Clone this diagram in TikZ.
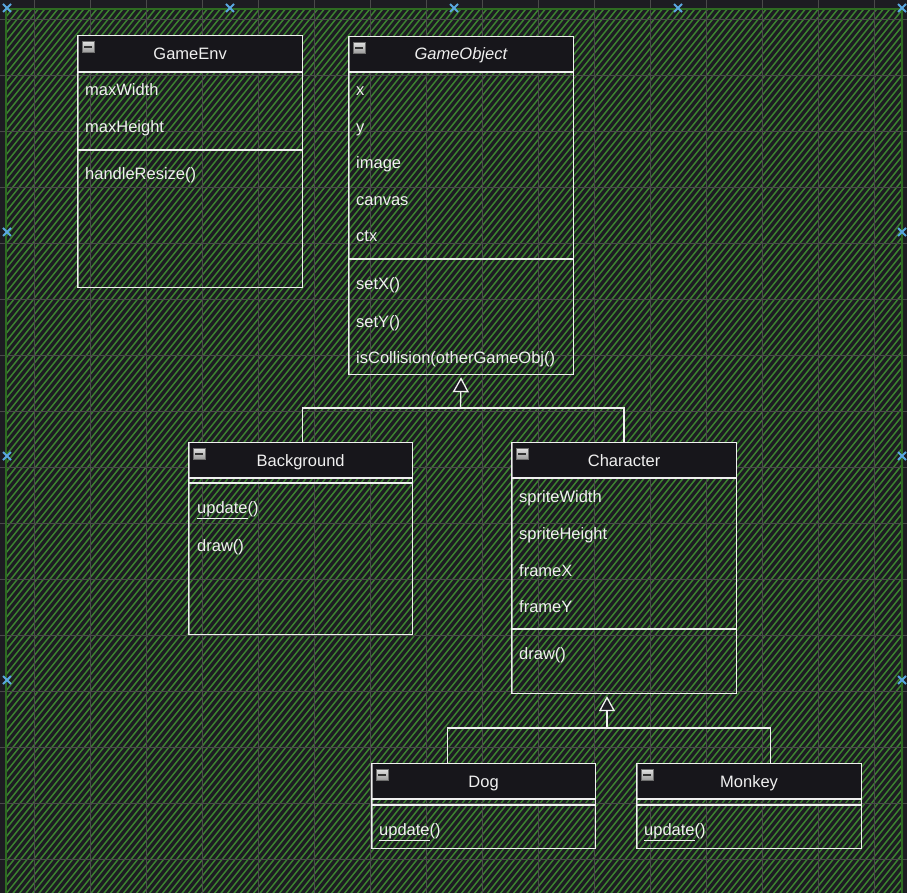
\documentclass[tikz,border=0pt]{standalone}
\usepackage{fontspec}
\setmainfont{Liberation Sans}
\usetikzlibrary{arrows.meta,calc}
\definecolor{bgc}{HTML}{1D1C22}
\definecolor{hatch}{HTML}{3C8230}
\definecolor{gridc}{HTML}{4A4A4A}
\definecolor{hdr}{HTML}{17161B}
\definecolor{ink}{HTML}{F0F0F0}
\definecolor{handle}{HTML}{5AA8E0}
\definecolor{framec}{HTML}{2E6B22}
\definecolor{icontop}{HTML}{E0E0E0}
\definecolor{iconbot}{HTML}{999999}
\tikzset{
  classframe/.style={draw=ink, line width=1.2pt, rectangle, anchor=north west, inner sep=0pt},
  sketch/.style={draw=ink, line width=0.6pt, opacity=0.6},
  rule/.style={draw=ink, line width=1.1pt},
  minusicon/.style={rectangle, minimum width=12pt, minimum height=11pt, inner sep=0pt,
    draw={rgb,255:red,110;green,110;blue,110}, line width=0.6pt, top color=icontop, bottom color=iconbot,
    path picture={\fill[black!80] ([xshift=2pt,yshift=-1pt]path picture bounding box.west) rectangle ([xshift=-2pt,yshift=1pt]path picture bounding box.east);}},
  titletext/.style={anchor=base, inner sep=0pt, text=ink, font=\fontsize{16.5}{19}\selectfont},
  attr/.style={anchor=base west, inner sep=0pt, text=ink, font=\fontsize{16.5}{19}\selectfont},
  conn/.style={draw=ink, line width=1.3pt},
  gentip/.style={-{Triangle[length=15pt, width=16pt, fill=bgc, line width=1.3pt]}, shorten >=2pt}
}
\newcommand\umlclass[8]{%
  \fill[hdr] (#2,#3) rectangle ++(#4,#6);
  \node[classframe, minimum width=#4pt, minimum height=#5pt] (#1) at (#2,#3) {};
  \draw[sketch] ([shift={(0.9,0.7)}]#1.north west) rectangle ([shift={(-0.7,-0.9)}]#1.south east);
  \draw[rule] ($(#1.north west)+(0,#6)$) -- ($(#1.north east)+(0,#6)$);
  \draw[rule] ($(#1.north west)+(0,#7)$) -- ($(#1.north east)+(0,#7)$);
  \node[minusicon] (#1-icon) at ($(#1.north west)+(11,12)$) {};
  \node[titletext] (#1-title) at ($(#1.north)+(0,#6/2+6)$) {#8};
}
\begin{document}
\begin{tikzpicture}[x=1pt,y=-1pt]
\useasboundingbox (0,0) rectangle (907,893);
% background
\fill[bgc] (0,0) rectangle (907,893);
\begin{scope}
  \clip (6,9) rectangle (902,900);
  \foreach \c in {0,6.5,...,1700} \draw[hatch, line width=1.5pt] (\c,0) -- ++(-730,912);
\end{scope}
\foreach \gx in {34,90,...,874} \draw[gridc, line width=0.8pt] (\gx,0) -- (\gx,893);
\foreach \gy in {19,75,...,859} \draw[gridc, line width=0.8pt] (0,\gy) -- (907,\gy);
\draw[framec, line width=2pt] (6,9) rectangle (902,905);

% classes
\umlclass{genv}{77}{35}{225}{252}{37}{115}{GameEnv}
\node[attr] (genv-a1) at (85,96) {maxWidth};
\node[attr] (genv-a2) at (85,133) {maxHeight};
\node[attr] (genv-m1) at (85,180) {handleResize()};

\umlclass{gobj}{348}{36}{225}{338}{36}{223}{\textit{GameObject}}
\node[attr] (gobj-a1) at (356,96) {x};
\node[attr] (gobj-a2) at (356,133) {y};
\node[attr] (gobj-a3) at (356,169) {image};
\node[attr] (gobj-a4) at (356,206) {canvas};
\node[attr] (gobj-a5) at (356,242) {ctx};
\node[attr] (gobj-m1) at (356,290) {setX()};
\node[attr] (gobj-m2) at (356,327) {setY()};
\node[attr] (gobj-m3) at (356,363) {isCollision(otherGameObj()};

\umlclass{bg}{188}{442}{224}{192}{36}{41}{Background}
\node[attr] (bg-m1) at (197,513) {\underline{update}()};
\node[attr] (bg-m2) at (197,551) {draw()};

\umlclass{char}{511}{442}{225}{251}{36}{187}{Character}
\node[attr] (char-a1) at (519,502) {spriteWidth};
\node[attr] (char-a2) at (519,539) {spriteHeight};
\node[attr] (char-a3) at (519,576) {frameX};
\node[attr] (char-a4) at (519,612) {frameY};
\node[attr] (char-m1) at (519,659) {draw()};

\umlclass{dog}{371}{763}{224}{85}{36}{42}{Dog}
\node[attr] (dog-m1) at (379,835) {\underline{update}()};

\umlclass{monkey}{636}{763}{225}{85}{36}{42}{Monkey}
\node[attr] (monkey-m1) at (644,835) {\underline{update}()};

% generalisation connectors
\coordinate (j1) at (460.5,408);
\draw[conn] ([xshift=2pt]bg.north) |- (j1);
\draw[conn] (char.north) |- (j1);
\draw[conn, gentip] (j1) -- (gobj.south);

\coordinate (j2) at (607,728);
\draw[conn] ([xshift=-36pt]dog.north) |- (j2);
\draw[conn] ([xshift=21.5pt]monkey.north) |- (j2);
\draw[conn, gentip] (j2) -- (char.south -| j2);

% selection handles
\foreach \hx/\hy in {7/8,230/8,454/8,678/8,902/8,7/232,7/456,7/680,902/232,902/456,902/680}
  \draw[handle, line width=1.8pt] (\hx-4,\hy-4) -- (\hx+4,\hy+4) (\hx-4,\hy+4) -- (\hx+4,\hy-4);
\end{tikzpicture}
\end{document}
